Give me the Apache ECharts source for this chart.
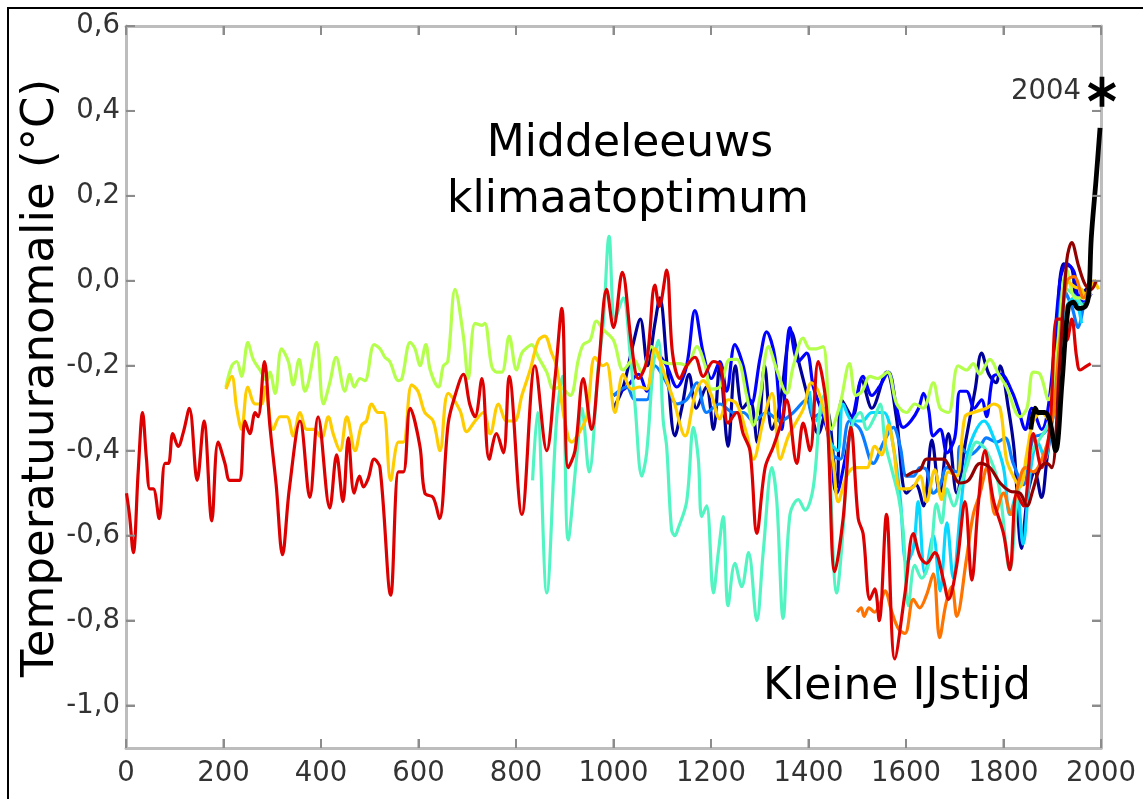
<!DOCTYPE html>
<html><head><meta charset="utf-8">
<script src="https://cdn.jsdelivr.net/npm/echarts@6/dist/echarts.min.js"></script>
<style>html,body{margin:0;padding:0;background:#fff}#c{width:1143px;height:799px}</style>
</head><body><div id="c"></div>
<script>
// Tick labels
const xTicks = [0,200,400,600,800,1000,1200,1400,1600,1800,2000];
const yTicks = [-1.0,-0.8,-0.6,-0.4,-0.2,0,0.2,0.4,0.6];

// Reconstructions: [year, anomaly °C]
const jones1998 = [[1000,-0.30],[1020,-0.25],[1040,-0.15],[1055,-0.09],[1070,-0.20],[1085,-0.10],[1095,-0.04],[1110,-0.20],[1126,-0.365],[1140,-0.30],[1155,-0.22],[1170,-0.30],[1190,-0.25],[1205,-0.35],[1218,-0.20],[1235,-0.39],[1250,-0.20],[1265,-0.30],[1280,-0.28],[1295,-0.38],[1310,-0.20],[1325,-0.35],[1340,-0.30],[1365,-0.12],[1382,-0.20],[1400,-0.28],[1420,-0.36],[1437,-0.30],[1458,-0.485],[1468,-0.28],[1490,-0.32],[1509,-0.235],[1530,-0.30],[1560,-0.215],[1580,-0.32],[1601,-0.50],[1620,-0.48],[1636,-0.53],[1653,-0.375],[1669,-0.50],[1687,-0.36],[1704,-0.50],[1722,-0.38],[1742,-0.255],[1755,-0.17],[1770,-0.22],[1785,-0.24],[1793,-0.20],[1810,-0.30],[1822,-0.40],[1837,-0.63],[1850,-0.50],[1864,-0.45],[1878,-0.51],[1889,-0.42],[1902,-0.30],[1923,0.04],[1940,0.03],[1950,-0.04],[1970,-0.02],[1991,0.0]];
const mann1999 = [[1000,-0.27],[1027,-0.25],[1051,-0.22],[1068,-0.26],[1088,-0.17],[1109,-0.20],[1130,-0.25],[1150,-0.20],[1167,-0.07],[1184,-0.17],[1201,-0.23],[1218,-0.19],[1232,-0.26],[1249,-0.15],[1266,-0.20],[1283,-0.29],[1301,-0.18],[1314,-0.12],[1331,-0.18],[1345,-0.35],[1362,-0.11],[1379,-0.19],[1396,-0.17],[1410,-0.25],[1425,-0.30],[1440,-0.36],[1458,-0.50],[1475,-0.42],[1495,-0.30],[1512,-0.225],[1530,-0.27],[1545,-0.25],[1564,-0.215],[1581,-0.30],[1594,-0.345],[1610,-0.33],[1626,-0.30],[1636,-0.265],[1646,-0.30],[1656,-0.365],[1670,-0.35],[1684,-0.405],[1700,-0.37],[1711,-0.26],[1724,-0.26],[1740,-0.30],[1755,-0.28],[1765,-0.32],[1779,-0.225],[1795,-0.22],[1817,-0.26],[1830,-0.30],[1845,-0.35],[1858,-0.30],[1878,-0.35],[1895,-0.27],[1916,0.0],[1930,0.04],[1945,0.02],[1953,-0.04],[1965,-0.05],[1980,-0.03]];
const crowley2000 = [[1000,-0.27],[1027,-0.25],[1044,-0.28],[1068,-0.28],[1085,-0.20],[1109,-0.24],[1130,-0.29],[1150,-0.28],[1171,-0.24],[1191,-0.31],[1218,-0.29],[1246,-0.31],[1266,-0.31],[1287,-0.33],[1314,-0.31],[1342,-0.33],[1369,-0.31],[1396,-0.28],[1410,-0.32],[1430,-0.31],[1451,-0.41],[1465,-0.42],[1484,-0.33],[1506,-0.35],[1533,-0.43],[1554,-0.38],[1574,-0.345],[1588,-0.39],[1601,-0.46],[1615,-0.46],[1629,-0.44],[1642,-0.445],[1656,-0.50],[1670,-0.48],[1684,-0.44],[1704,-0.45],[1711,-0.39],[1731,-0.41],[1752,-0.39],[1765,-0.37],[1786,-0.38],[1803,-0.37],[1820,-0.43],[1841,-0.48],[1861,-0.37],[1882,-0.36],[1902,-0.32],[1923,-0.02],[1940,-0.06],[1953,-0.11],[1965,-0.05]];
const briffa2001 = [[1402,-0.26],[1415,-0.33],[1430,-0.30],[1445,-0.38],[1460,-0.40],[1471,-0.29],[1490,-0.33],[1510,-0.33],[1530,-0.31],[1554,-0.31],[1574,-0.39],[1588,-0.51],[1601,-0.665],[1615,-0.63],[1625,-0.52],[1639,-0.69],[1656,-0.60],[1670,-0.73],[1684,-0.57],[1697,-0.70],[1711,-0.55],[1724,-0.42],[1740,-0.36],[1760,-0.33],[1780,-0.37],[1800,-0.44],[1813,-0.55],[1827,-0.50],[1840,-0.62],[1855,-0.45],[1870,-0.38],[1885,-0.42],[1900,-0.30],[1915,-0.16],[1930,-0.06],[1945,-0.04],[1960,-0.10]];
const esper2002 = [[834,-0.47],[844,-0.31],[863,-0.735],[883,-0.33],[895,-0.225],[907,-0.61],[924,-0.42],[935,-0.30],[950,-0.45],[969,-0.20],[979,-0.10],[991,0.105],[1003,-0.09],[1020,-0.04],[1034,-0.17],[1044,-0.29],[1058,-0.46],[1068,-0.405],[1082,-0.195],[1092,-0.14],[1102,-0.33],[1109,-0.39],[1119,-0.585],[1126,-0.60],[1132,-0.585],[1150,-0.52],[1164,-0.345],[1174,-0.42],[1181,-0.555],[1191,-0.53],[1205,-0.735],[1215,-0.64],[1225,-0.555],[1235,-0.765],[1249,-0.665],[1263,-0.72],[1277,-0.64],[1294,-0.80],[1307,-0.64],[1325,-0.44],[1335,-0.52],[1348,-0.795],[1362,-0.55],[1379,-0.515],[1393,-0.54],[1410,-0.485],[1424,-0.30],[1432,-0.27],[1440,-0.35],[1458,-0.735],[1471,-0.585],[1482,-0.38],[1492,-0.33],[1506,-0.31],[1520,-0.35],[1536,-0.32],[1547,-0.29],[1557,-0.38],[1571,-0.445],[1585,-0.51],[1594,-0.585],[1605,-0.765],[1618,-0.67],[1632,-0.70],[1649,-0.655],[1663,-0.525],[1673,-0.57],[1684,-0.49],[1698,-0.53],[1711,-0.485],[1724,-0.44],[1745,-0.38],[1765,-0.40],[1790,-0.48],[1813,-0.68],[1830,-0.50],[1850,-0.42],[1870,-0.38],[1895,-0.33],[1912,-0.20],[1930,-0.02],[1950,-0.04],[1965,-0.06],[1980,-0.01],[1992,-0.01]];
const mannJones2003 = [[205,-0.25],[217,-0.20],[227,-0.19],[237,-0.225],[250,-0.145],[261,-0.185],[275,-0.21],[289,-0.235],[295,-0.215],[306,-0.265],[319,-0.16],[333,-0.19],[343,-0.245],[355,-0.185],[367,-0.26],[374,-0.24],[391,-0.145],[405,-0.29],[418,-0.24],[431,-0.18],[449,-0.26],[459,-0.22],[468,-0.25],[480,-0.23],[490,-0.235],[509,-0.15],[521,-0.16],[531,-0.18],[541,-0.19],[559,-0.235],[566,-0.23],[583,-0.145],[593,-0.16],[603,-0.20],[615,-0.15],[624,-0.21],[641,-0.25],[651,-0.20],[660,-0.19],[675,-0.02],[692,-0.13],[702,-0.23],[716,-0.10],[730,-0.105],[736,-0.10],[750,-0.20],[760,-0.215],[771,-0.215],[786,-0.13],[801,-0.21],[812,-0.17],[825,-0.155],[832,-0.15],[846,-0.18],[863,-0.215],[877,-0.255],[890,-0.25],[911,-0.27],[928,-0.185],[938,-0.15],[952,-0.14],[965,-0.095],[979,-0.115],[1000,-0.14],[1020,-0.21],[1041,-0.185],[1058,-0.215],[1078,-0.155],[1095,-0.185],[1116,-0.195],[1136,-0.195],[1150,-0.20],[1171,-0.155],[1188,-0.20],[1201,-0.255],[1218,-0.25],[1239,-0.185],[1253,-0.185],[1273,-0.27],[1287,-0.34],[1301,-0.27],[1318,-0.155],[1335,-0.21],[1355,-0.265],[1369,-0.20],[1389,-0.135],[1403,-0.16],[1416,-0.16],[1430,-0.155],[1447,-0.35],[1465,-0.29],[1484,-0.195],[1497,-0.27],[1510,-0.26],[1526,-0.225],[1541,-0.23],[1562,-0.215],[1581,-0.29],[1601,-0.31],[1618,-0.29],[1635,-0.30],[1656,-0.24],[1670,-0.30],[1687,-0.31],[1707,-0.20],[1724,-0.21],[1738,-0.195],[1751,-0.22],[1772,-0.185],[1790,-0.22],[1806,-0.25],[1834,-0.32],[1848,-0.30],[1861,-0.215],[1875,-0.22],[1892,-0.28],[1909,-0.17],[1930,0.025],[1947,-0.04],[1960,-0.04],[1980,-0.03]];
const jonesMann2004 = [[205,-0.255],[217,-0.225],[227,-0.30],[237,-0.35],[250,-0.25],[265,-0.29],[278,-0.29],[285,-0.25],[302,-0.35],[316,-0.32],[330,-0.32],[343,-0.365],[357,-0.31],[371,-0.35],[385,-0.35],[401,-0.37],[415,-0.32],[425,-0.36],[439,-0.40],[453,-0.32],[470,-0.40],[483,-0.34],[493,-0.33],[504,-0.29],[517,-0.31],[528,-0.31],[543,-0.47],[559,-0.38],[569,-0.38],[586,-0.245],[599,-0.26],[613,-0.31],[630,-0.33],[644,-0.40],[661,-0.265],[685,-0.305],[699,-0.355],[716,-0.33],[733,-0.31],[747,-0.36],[764,-0.29],[781,-0.33],[797,-0.33],[812,-0.27],[829,-0.21],[846,-0.14],[859,-0.13],[873,-0.17],[883,-0.20],[900,-0.33],[914,-0.38],[928,-0.36],[945,-0.32],[962,-0.18],[978,-0.20],[986,-0.195],[1003,-0.31],[1020,-0.22],[1037,-0.255],[1054,-0.25],[1068,-0.255],[1085,-0.16],[1106,-0.225],[1123,-0.28],[1147,-0.365],[1167,-0.27],[1184,-0.235],[1201,-0.27],[1218,-0.325],[1235,-0.28],[1253,-0.29],[1273,-0.36],[1287,-0.42],[1307,-0.33],[1325,-0.265],[1342,-0.42],[1359,-0.365],[1376,-0.33],[1390,-0.30],[1406,-0.24],[1420,-0.26],[1434,-0.32],[1451,-0.43],[1461,-0.52],[1478,-0.46],[1495,-0.44],[1510,-0.44],[1520,-0.44],[1536,-0.39],[1550,-0.41],[1564,-0.34],[1574,-0.39],[1588,-0.49],[1601,-0.49],[1615,-0.485],[1629,-0.46],[1642,-0.52],[1659,-0.445],[1673,-0.515],[1687,-0.45],[1704,-0.46],[1721,-0.32],[1738,-0.31],[1752,-0.305],[1765,-0.30],[1779,-0.29],[1793,-0.30],[1806,-0.42],[1820,-0.46],[1834,-0.485],[1848,-0.405],[1861,-0.33],[1878,-0.31],[1895,-0.33],[1912,-0.225],[1930,0.0],[1947,-0.015],[1960,-0.02],[1971,-0.045],[1985,0.0],[1995,-0.02]];
const huang2004 = [[1500,-0.78],[1508,-0.77],[1514,-0.79],[1524,-0.77],[1535,-0.78],[1547,-0.76],[1557,-0.73],[1571,-0.78],[1585,-0.82],[1598,-0.83],[1615,-0.75],[1628,-0.77],[1642,-0.74],[1656,-0.69],[1669,-0.84],[1682,-0.76],[1694,-0.72],[1704,-0.79],[1724,-0.655],[1738,-0.55],[1752,-0.50],[1766,-0.44],[1783,-0.55],[1800,-0.50],[1815,-0.55],[1830,-0.48],[1845,-0.44],[1861,-0.45],[1882,-0.41],[1900,-0.33],[1915,-0.15],[1930,0.00],[1945,0.01],[1964,-0.04],[1980,0.0]];
const moberg2005 = [[1,-0.50],[7,-0.55],[15,-0.64],[25,-0.45],[34,-0.31],[42,-0.42],[49,-0.49],[56,-0.49],[68,-0.56],[80,-0.43],[87,-0.43],[96,-0.36],[107,-0.39],[118,-0.355],[130,-0.30],[146,-0.47],[160,-0.33],[176,-0.565],[189,-0.38],[203,-0.43],[213,-0.47],[227,-0.47],[234,-0.47],[244,-0.33],[254,-0.36],[265,-0.31],[271,-0.32],[284,-0.19],[295,-0.34],[308,-0.48],[321,-0.645],[335,-0.49],[357,-0.33],[377,-0.51],[394,-0.32],[418,-0.535],[432,-0.41],[445,-0.52],[456,-0.37],[468,-0.50],[479,-0.46],[487,-0.485],[497,-0.465],[509,-0.42],[521,-0.44],[543,-0.74],[559,-0.45],[569,-0.45],[583,-0.30],[603,-0.39],[613,-0.50],[630,-0.51],[643,-0.56],[661,-0.335],[675,-0.27],[692,-0.22],[705,-0.29],[716,-0.32],[730,-0.23],[745,-0.42],[760,-0.36],[774,-0.405],[786,-0.225],[812,-0.55],[839,-0.20],[863,-0.40],[880,-0.23],[894,-0.065],[907,-0.44],[921,-0.40],[938,-0.23],[955,-0.35],[969,-0.21],[986,-0.02],[1000,-0.11],[1018,0.02],[1037,-0.15],[1051,-0.23],[1068,-0.19],[1085,-0.01],[1094,-0.06],[1109,0.025],[1121,-0.17],[1136,-0.23],[1150,-0.20],[1167,-0.18],[1184,-0.225],[1205,-0.19],[1220,-0.20],[1235,-0.335],[1253,-0.31],[1266,-0.36],[1280,-0.40],[1294,-0.595],[1311,-0.44],[1328,-0.39],[1345,-0.33],[1355,-0.28],[1376,-0.43],[1389,-0.335],[1403,-0.40],[1420,-0.19],[1437,-0.30],[1454,-0.685],[1471,-0.56],[1487,-0.345],[1502,-0.56],[1512,-0.595],[1526,-0.75],[1536,-0.725],[1545,-0.80],[1560,-0.55],[1577,-0.89],[1598,-0.735],[1615,-0.595],[1629,-0.65],[1642,-0.665],[1659,-0.64],[1677,-0.705],[1687,-0.75],[1704,-0.67],[1721,-0.52],[1735,-0.705],[1748,-0.53],[1762,-0.40],[1779,-0.515],[1800,-0.595],[1813,-0.68],[1827,-0.50],[1841,-0.53],[1861,-0.36],[1878,-0.44],[1895,-0.345],[1909,-0.09],[1919,-0.09],[1930,-0.14],[1940,-0.09],[1950,-0.18],[1957,-0.21],[1971,-0.20],[1979,-0.195]];
const oerlemans2005 = [[1600,-0.46],[1615,-0.45],[1629,-0.445],[1642,-0.42],[1659,-0.42],[1677,-0.42],[1690,-0.44],[1711,-0.476],[1728,-0.47],[1752,-0.43],[1772,-0.44],[1793,-0.476],[1813,-0.495],[1834,-0.50],[1848,-0.53],[1861,-0.49],[1875,-0.44],[1889,-0.43],[1899,-0.44],[1915,-0.20],[1930,0.05],[1940,0.09],[1954,0.035],[1968,-0.01],[1980,-0.02],[1990,0.0]];
const instrumental = [[1856,-0.35],[1865,-0.30],[1871,-0.31],[1885,-0.31],[1895,-0.33],[1907,-0.40],[1920,-0.24],[1933,-0.06],[1943,-0.05],[1953,-0.065],[1968,-0.06],[1975,-0.03],[1980,0.10],[1990,0.24],[1998,0.36]];
const marker2004 = [[2002, 0.445]];

const X_MIN = 0, X_MAX = 2000, Y_MIN = -1.1, Y_MAX = 0.6;

const seriesDefs = [
  {name:'Jones 1998', data:jones1998, color:'#00009a', w:3.2},
  {name:'Mann 1999', data:mann1999, color:'#0000ff', w:3.2},
  {name:'Crowley 2000', data:crowley2000, color:'#0a7cff', w:3.2},
  {name:'Briffa 2001', data:briffa2001, color:'#08d8ff', w:3.2},
  {name:'Esper 2002', data:esper2002, color:'#52f5c2', w:3.2},
  {name:'Mann & Jones 2003', data:mannJones2003, color:'#b4ff4c', w:3.2},
  {name:'Jones & Mann 2004', data:jonesMann2004, color:'#ffcc00', w:3.2},
  {name:'Huang 2004', data:huang2004, color:'#ff7300', w:3.2},
  {name:'Moberg 2005', data:moberg2005, color:'#dd0000', w:3.2},
  {name:'Oerlemans 2005', data:oerlemans2005, color:'#920000', w:3.2},
  {name:'Instrumenteel', data:instrumental, color:'#000000', w:4.8}
];

// Tick marks on all four frame sides, placed through the axes' own scales
const tickData = [];
xTicks.forEach(v => { tickData.push([v, Y_MIN, 0]); tickData.push([v, Y_MAX, 1]); });
yTicks.forEach(v => { tickData.push([X_MIN, v, 2]); tickData.push([X_MAX, v, 3]); });
const TICK_LEN = 9;

const FONT = 'DejaVu Sans';
const asterisk = 'path://M-8 -50L8 -50L8 50L-8 50Z M39.3 -31.9L47.3 -18.1L-39.3 31.9L-47.3 18.1Z M-47.3 -18.1L-39.3 -31.9L47.3 18.1L39.3 31.9Z';

const chart = echarts.init(document.getElementById('c'));
const series = [{
  type:'custom', data:tickData, xAxisIndex:0, yAxisIndex:0, silent:true, z:4, clip:false, animation:false,
  renderItem:(params, api) => {
    const p = api.coord([api.value(0), api.value(1)]);
    const side = api.value(2);
    const d = [[0,-TICK_LEN],[0,TICK_LEN],[TICK_LEN,0],[-TICK_LEN,0]][side];
    return {type:'line', shape:{x1:p[0], y1:p[1], x2:p[0]+d[0], y2:p[1]+d[1]},
            style:{stroke:'#8c8c8c', lineWidth:2, fill:null}};
  }
}];
seriesDefs.forEach(d => series.push({
  name: d.name, type:'line', data:d.data, showSymbol:false, symbol:'none',
  smooth:0.35, lineStyle:{color:d.color, width:d.w}, itemStyle:{color:d.color},
  xAxisIndex:0, yAxisIndex:0, animation:false, z:2
}));
series.push({
  type:'scatter', data:marker2004, symbol:asterisk, symbolSize:[28,30],
  xAxisIndex:0, yAxisIndex:0, z:3,
  itemStyle:{color:'#000', opacity:1}, clip:false,
  label:{show:true, position:'left', distance:7, formatter:'2004', color:'#333', fontSize:27.5, fontFamily:FONT}
});

const mkLine = () => ({color:'#bdbdbd', width:3});
const mkTick = () => ({color:'#8c8c8c', width:2});

chart.setOption({
  animation:false,
  grid:{left:126, right:42, top:26, bottom:51},
  xAxis:[
    {type:'value', min:X_MIN, max:X_MAX, interval:200, position:'bottom',
     axisLine:{show:true, lineStyle:mkLine(), onZeroAxisIndex:2},
     axisTick:{show:true, inside:true, length:TICK_LEN, lineStyle:mkTick()},
     axisLabel:{color:'#333', fontSize:27.5, fontFamily:FONT, margin:12, formatter:v => String(v)},
     splitLine:{show:false}},
    {type:'value', min:X_MIN, max:X_MAX, interval:200, position:'top',
     axisLine:{show:true, lineStyle:mkLine(), onZeroAxisIndex:3},
     axisTick:{show:true, inside:true, length:TICK_LEN, lineStyle:mkTick()},
     axisLabel:{color:'rgba(0,0,0,0)', fontSize:1, formatter:() => ''}, splitLine:{show:false}},
    {type:'value', min:-1, max:0, show:false, position:'bottom', axisLine:{onZero:false}}
  ],
  yAxis:[
    {type:'value', min:Y_MIN, max:Y_MAX, position:'left',
     axisLine:{show:true, lineStyle:mkLine(), onZeroAxisIndex:0},
     axisTick:{show:true, inside:true, length:TICK_LEN, lineStyle:mkTick(), customValues:yTicks},
     axisLabel:{color:'#333', fontSize:27.5, fontFamily:FONT, margin:6, customValues:yTicks,
       formatter:v => (Math.abs(v)<1e-9?0:v).toFixed(1).replace('.', ',')},
     splitLine:{show:false}},
    {type:'value', min:Y_MIN, max:Y_MAX, position:'right',
     axisLine:{show:true, lineStyle:mkLine(), onZeroAxisIndex:2},
     axisTick:{show:true, inside:true, length:TICK_LEN, lineStyle:mkTick(), customValues:yTicks},
     axisLabel:{customValues:yTicks, color:'rgba(0,0,0,0)', fontSize:1, formatter:() => ''}, splitLine:{show:false}},
    {type:'value', min:0, max:1, show:false, position:'left', axisLine:{onZero:false}},
    {type:'value', min:-1, max:0, show:false, position:'left', axisLine:{onZero:false}}
  ],
  series:series,
  graphic:[
    {type:'rect', shape:{x:8, y:8, width:1300, height:1000}, style:{fill:null, stroke:'#000', lineWidth:2}, silent:true},
    {type:'text', x:41, y:378, rotation:Math.PI/2, style:{text:'Temperatuuranomalie (°C)', font:'45px "DejaVu Sans"', fill:'#000', align:'center', verticalAlign:'middle'}},
    {type:'text', x:630, y:145, style:{text:'Middeleeuws', font:'44px "DejaVu Sans"', fill:'#000', align:'center', verticalAlign:'middle'}},
    {type:'text', x:628, y:201, style:{text:'klimaatoptimum', font:'44px "DejaVu Sans"', fill:'#000', align:'center', verticalAlign:'middle'}},
    {type:'text', x:897, y:688, style:{text:'Kleine IJstijd', font:'44px "DejaVu Sans"', fill:'#000', align:'center', verticalAlign:'middle'}}
  ]
});
</script>
</body></html>
